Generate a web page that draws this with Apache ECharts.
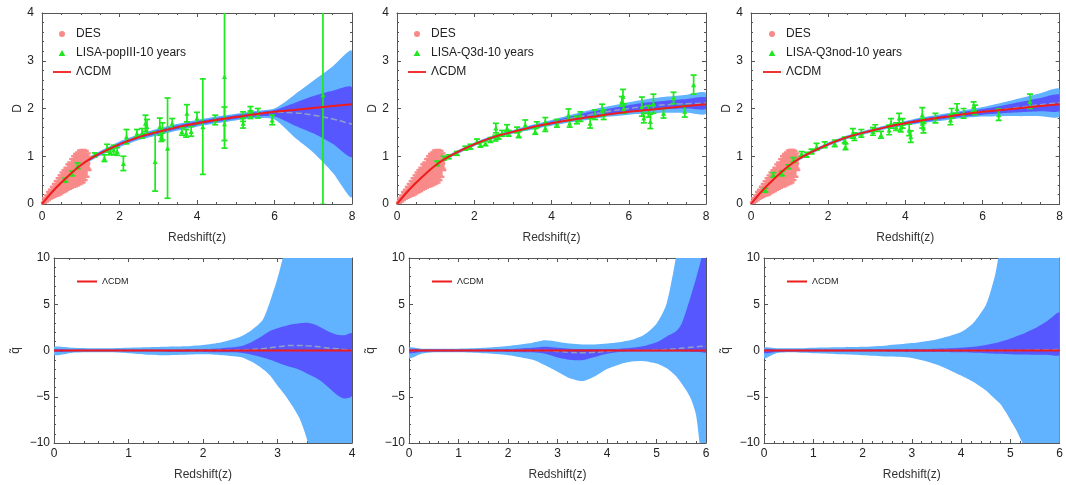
<!DOCTYPE html>
<html><head><meta charset="utf-8">
<script src="https://cdn.jsdelivr.net/npm/echarts@6/dist/echarts.min.js"></script>
<style>html,body{margin:0;padding:0;background:#fff}#c{width:1066px;height:485px}</style>
</head><body><div id="c"></div>
<script>
// ---------------- DATA ----------------
const lisaNames = ['LISA-popIII-10 years', 'LISA-Q3d-10 years', 'LISA-Q3nod-10 years'];

// top panels: reconstructed D(z)
const zTop  = [0,0.25,0.5,0.75,1,1.25,1.5,2,2.5,3,3.5,4,4.5,5,5.5,6,6.5,7,7.5,8];
const dLCDM = [0,0.24,0.45,0.64,0.81,0.95,1.06,1.25,1.40,1.51,1.61,1.69,1.76,1.82,1.88,1.93,1.97,2.01,2.05,2.09];

const mean1 = [0,0.24,0.45,0.64,0.81,0.95,1.06,1.25,1.40,1.51,1.61,1.69,1.76,1.82,1.88,1.92,1.91,1.86,1.78,1.67];
const l1Hi  = [0.02,0.27,0.49,0.69,0.86,1.00,1.11,1.31,1.46,1.58,1.68,1.76,1.83,1.89,1.95,2.00,2.28,2.58,2.88,3.20];
const l1Lo  = [-0.02,0.21,0.41,0.59,0.76,0.90,1.01,1.19,1.34,1.44,1.54,1.62,1.69,1.75,1.80,1.77,1.41,1.08,0.66,0.15];
const d1Hi  = [0.01,0.26,0.47,0.67,0.84,0.98,1.09,1.28,1.43,1.55,1.65,1.73,1.80,1.86,1.92,1.97,2.11,2.26,2.37,2.44];
const d1Lo  = [-0.01,0.22,0.43,0.61,0.78,0.92,1.03,1.22,1.37,1.47,1.57,1.65,1.72,1.78,1.83,1.83,1.65,1.48,1.26,0.99];

const mean2 = [0,0.24,0.45,0.64,0.81,0.95,1.06,1.25,1.40,1.51,1.61,1.70,1.79,1.87,1.94,2.00,2.05,2.08,2.10,2.11];
const l2Hi  = [0.01,0.27,0.48,0.67,0.85,0.99,1.10,1.29,1.44,1.55,1.66,1.76,1.87,1.97,2.05,2.13,2.20,2.25,2.29,2.33];
const l2Lo  = [-0.01,0.21,0.42,0.61,0.77,0.91,1.02,1.21,1.36,1.47,1.56,1.64,1.71,1.77,1.83,1.87,1.90,1.91,1.91,1.89];
const d2Hi  = [0.01,0.26,0.47,0.66,0.83,0.97,1.08,1.27,1.42,1.53,1.64,1.73,1.83,1.93,2.00,2.07,2.13,2.17,2.20,2.23];
const d2Lo  = [0,0.22,0.43,0.62,0.79,0.93,1.04,1.23,1.38,1.49,1.58,1.67,1.75,1.81,1.88,1.93,1.97,1.99,2.00,1.99];

const mean3 = [0,0.24,0.45,0.64,0.81,0.95,1.06,1.25,1.40,1.51,1.61,1.69,1.76,1.82,1.88,1.93,1.98,2.03,2.08,2.12];
const l3Hi  = [0.01,0.27,0.48,0.68,0.85,0.99,1.10,1.29,1.44,1.55,1.65,1.74,1.82,1.89,1.96,2.03,2.12,2.22,2.32,2.41];
const l3Lo  = [-0.01,0.21,0.42,0.60,0.77,0.91,1.02,1.21,1.36,1.47,1.57,1.64,1.70,1.75,1.80,1.83,1.84,1.84,1.84,1.83];
const d3Hi  = [0.01,0.26,0.47,0.66,0.83,0.97,1.08,1.27,1.42,1.53,1.63,1.72,1.80,1.86,1.93,1.99,2.06,2.14,2.22,2.29];
const d3Lo  = [0,0.22,0.43,0.62,0.79,0.93,1.04,1.23,1.38,1.49,1.59,1.66,1.72,1.78,1.83,1.87,1.90,1.92,1.94,1.95];

// DES points
const desZ = [0.02,0.05,0.08,0.1,0.13,0.15,0.18,0.2,0.23,0.25,0.28,0.3,0.33,0.35,0.38,0.4,0.43,0.45,0.48,0.5,0.53,0.55,0.58,0.6,0.63,0.65,0.68,0.7,0.73,0.75,0.78,0.8,0.83,0.85,0.88,0.9,0.93,0.95,0.98,1.0,1.03,1.05,1.08,1.1,1.13,1.15,1.18,1.2];
const desD = [0.03,0.04,0.09,0.08,0.14,0.12,0.2,0.16,0.24,0.19,0.3,0.22,0.35,0.25,0.4,0.27,0.45,0.3,0.5,0.33,0.55,0.36,0.6,0.39,0.64,0.42,0.7,0.45,0.74,0.48,0.8,0.5,0.85,0.52,0.9,0.55,0.92,0.57,0.95,0.6,0.96,0.63,0.95,0.68,0.93,0.75,0.9,0.85];
const desE = [0.02,0.02,0.03,0.03,0.04,0.04,0.05,0.05,0.06,0.06,0.06,0.07,0.07,0.08,0.08,0.09,0.09,0.1,0.1,0.1,0.11,0.11,0.11,0.12,0.12,0.12,0.13,0.13,0.13,0.14,0.14,0.14,0.15,0.15,0.15,0.16,0.16,0.16,0.17,0.17,0.17,0.18,0.18,0.18,0.18,0.18,0.16,0.14];

// LISA mock points
const p1Z = [0.6,0.77,0.92,1.36,1.61,1.68,1.76,1.85,1.94,2.1,2.18,2.45,2.58,2.67,2.71,2.92,3.04,3.08,3.11,3.24,3.36,3.61,3.72,3.74,3.85,4.0,4.15,4.47,4.71,4.71,5.19,5.19,5.38,5.38,5.57,5.94,7.25];
const p1D = [0.5,0.64,0.8,1.03,0.96,1.17,1.1,1.13,1.1,0.85,1.41,1.48,1.48,1.69,1.62,0.89,1.62,1.41,1.52,1.17,1.69,1.52,1.48,1.9,1.52,1.8,1.62,1.76,1.68,2.67,1.83,1.69,1.97,1.87,1.9,1.76,2.29];
const p1E = [0.04,0.05,0.06,0.04,0.07,0.08,0.07,0.1,0.08,0.15,0.15,0.08,0.1,0.17,0.15,0.62,0.18,0.1,0.18,1.05,0.1,0.08,0.08,0.18,0.1,0.12,1.0,0.1,0.35,1.5,0.1,0.1,0.07,0.08,0.1,0.1,2.3];

const p2Z = [1.04,1.21,1.34,1.55,1.77,1.9,2.07,2.16,2.29,2.42,2.55,2.56,2.63,2.72,2.85,2.89,3.11,3.15,3.32,3.58,3.62,3.84,3.84,4.14,4.44,4.47,4.66,4.75,5.0,5.13,5.31,5.35,5.82,5.85,5.87,6.34,6.39,6.51,6.56,6.64,6.9,7.16,7.45,7.68];
const p2D = [0.85,0.96,0.99,1.06,1.17,1.2,1.31,1.24,1.27,1.34,1.38,1.59,1.41,1.48,1.59,1.48,1.55,1.45,1.66,1.52,1.66,1.59,1.73,1.69,1.87,1.69,1.76,1.83,1.69,1.87,1.97,1.87,2.15,2.25,2.0,2.04,1.8,1.94,1.73,2.1,1.9,2.22,1.94,2.5];
const p2E = [0.05,0.04,0.04,0.04,0.04,0.05,0.05,0.05,0.05,0.05,0.06,0.1,0.05,0.06,0.07,0.06,0.06,0.06,0.1,0.06,0.06,0.07,0.08,0.08,0.12,0.08,0.08,0.1,0.1,0.1,0.12,0.1,0.1,0.15,0.1,0.2,0.1,0.12,0.15,0.2,0.1,0.12,0.12,0.2];

const p3Z = [0.37,0.58,0.8,0.97,1.1,1.31,1.44,1.57,1.7,1.91,2.17,2.43,2.45,2.64,2.68,2.86,3.16,3.22,3.37,3.58,3.63,3.76,3.84,3.88,3.93,4.1,4.14,4.44,4.44,4.47,4.78,5.17,5.2,5.34,5.51,5.77,5.81,6.42,7.23];
const p3D = [0.29,0.61,0.64,0.78,0.92,1.05,1.03,1.1,1.2,1.24,1.27,1.34,1.2,1.48,1.41,1.48,1.52,1.59,1.45,1.55,1.69,1.62,1.8,1.59,1.69,1.55,1.41,1.69,1.87,1.59,1.8,1.76,1.9,2.0,1.9,2.04,1.97,1.87,2.15];
const p3E = [0.04,0.05,0.05,0.04,0.05,0.05,0.05,0.05,0.07,0.06,0.07,0.06,0.06,0.1,0.08,0.08,0.08,0.07,0.07,0.1,0.1,0.08,0.1,0.08,0.1,0.12,0.12,0.1,0.15,0.1,0.1,0.1,0.1,0.1,0.1,0.1,0.1,0.12,0.15];

// bottom panels: reconstructed q~(z)
const zB1   = [0,0.25,0.5,0.75,1,1.25,1.5,1.75,2,2.25,2.5,2.65,2.8,2.9,3.0,3.1,3.2,3.3,3.4,3.5,3.6,3.7,3.8,3.9,4.0];
const qL1Hi = [0.4,0.3,0.25,0.25,0.3,0.35,0.4,0.45,0.6,0.9,1.5,2.2,3.3,5.3,7.8,11,15,20,26,33,40,48,56,64,72];
const qL1Lo = [-0.5,-0.25,-0.2,-0.2,-0.3,-0.45,-0.5,-0.45,-0.4,-0.5,-0.7,-1.2,-2.0,-2.7,-3.8,-4.8,-6.0,-7.4,-9.7,-13,-18,-25,-32,-40,-50];
const qD1Hi = [0.15,0.12,0.1,0.1,0.1,0.1,0.1,0.12,0.15,0.25,0.45,0.9,1.6,2.1,2.4,2.65,2.85,2.95,3.0,2.8,2.4,2.0,1.7,1.65,1.85];
const qD1Lo = [-0.15,-0.1,-0.08,-0.08,-0.1,-0.12,-0.15,-0.15,-0.15,-0.2,-0.25,-0.45,-0.75,-1.0,-1.3,-1.6,-1.85,-2.1,-2.5,-2.9,-3.4,-4.1,-4.8,-5.2,-4.9];
const qM1   = [0,0,0,0,0,0,0,0,0,0.02,0.05,0.1,0.2,0.3,0.4,0.5,0.55,0.55,0.5,0.45,0.35,0.25,0.2,0.1,0.05];

const zB2   = [0,0.25,0.5,0.75,1,1.5,2,2.5,2.75,3,3.25,3.5,3.75,4,4.25,4.5,4.75,5,5.2,5.4,5.5,5.6,5.7,5.8,5.9,6];
const qL2Hi = [0.3,0.2,0.2,0.2,0.2,0.3,0.5,0.85,1.1,0.95,0.75,0.65,0.65,0.75,0.9,1.15,1.7,2.9,5.0,10.3,14,18,22,26,30,35];
const qL2Lo = [-0.85,-0.35,-0.2,-0.2,-0.2,-0.3,-0.5,-1.0,-1.6,-2.3,-3.0,-3.3,-2.8,-2.0,-1.5,-1.2,-1.15,-1.4,-1.9,-2.8,-3.5,-4.3,-5.3,-7.0,-11.5,-16];
const qD2Hi = [0.15,0.12,0.1,0.1,0.1,0.12,0.15,0.3,0.4,0.3,0.2,0.15,0.15,0.15,0.2,0.3,0.5,0.9,1.5,2.1,2.8,4.3,6.0,7.8,9.8,12];
const qD2Lo = [-0.3,-0.15,-0.1,-0.1,-0.1,-0.12,-0.15,-0.2,-0.35,-0.75,-1.0,-1.05,-0.7,-0.35,-0.15,-0.1,-0.1,-0.1,-0.1,-0.12,-0.13,-0.14,-0.15,-0.17,-0.18,-0.2];
const qM2   = [0,0,0,0,0,0,0,0,0,-0.1,-0.2,-0.25,-0.2,-0.1,0,0,0,0.05,0.1,0.2,0.25,0.3,0.35,0.4,0.45,0.5];

const zB3   = [0,0.25,0.5,0.75,1,1.5,2,2.5,3,3.5,4,4.25,4.5,4.6,4.7,4.8,4.9,5,5.1,5.2,5.3,5.4,5.5,5.75,6];
const qL3Hi = [0.3,0.25,0.25,0.25,0.3,0.35,0.4,0.55,0.8,1.2,2.0,3.0,4.9,6.4,8.4,11.5,14,17,20,23,26,29,32,40,48];
const qL3Lo = [-0.85,-0.3,-0.2,-0.25,-0.3,-0.4,-0.5,-0.65,-0.8,-1.5,-2.7,-3.4,-4.3,-4.8,-5.3,-5.8,-6.6,-7.5,-8.4,-9.5,-10.6,-12,-13.5,-18,-24];
const qD3Hi = [0.15,0.12,0.1,0.1,0.1,0.12,0.12,0.13,0.15,0.2,0.3,0.4,0.6,0.7,0.8,0.95,1.1,1.3,1.5,1.7,1.9,2.15,2.4,3.2,4.1];
const qD3Lo = [-0.3,-0.15,-0.1,-0.1,-0.1,-0.12,-0.12,-0.13,-0.15,-0.17,-0.2,-0.25,-0.3,-0.32,-0.34,-0.36,-0.38,-0.4,-0.42,-0.43,-0.44,-0.45,-0.45,-0.45,-0.45];
const qM3   = [0,0,0,0,0,0,0,0,0,0,0,0,0,0,0,0,0,0,0,0,0.02,0.04,0.06,0.08,0.1];

const qLCDMz = [[0,4],[0,6],[0,6]];
const qLCDM  = [0,0];

// ---------------- STYLE ----------------
const FONT = '"Liberation Sans", Arial, sans-serif';
const LIGHT = '#62b3ff', DARK = '#5757ff', RED = '#ee1c1c', GREEN = '#1ee81e', PINK = '#f88a8a', MEAN = '#8f9fc6', AX = '#555';

const grids = [
  {left:42, top:13, width:310, height:191},
  {left:397, top:13, width:309, height:191},
  {left:751, top:13, width:311, height:191},
  {left:54, top:258, width:298, height:185},
  {left:409, top:258, width:297, height:185},
  {left:764, top:258, width:298, height:185}
];

const clone = o => JSON.parse(JSON.stringify(o));
const minus = v => String(v).replace('-', '\u2212');

function axisBase(gi, min, max, interval, minorSplit){
  return {type:'value', gridIndex:gi, min, max, interval, splitLine:{show:false},
    axisLine:{show:true, onZero:false, lineStyle:{color:AX, width:1}},
    axisTick:{show:true, inside:true, length:4, lineStyle:{color:AX}},
    minorTick:{show:true, splitNumber:minorSplit, length:2, lineStyle:{color:AX}}};
}
const xAxes = [], yAxes = [];
grids.forEach((g, gi) => {
  const top = gi < 3;
  const xmax = top ? 8 : (gi === 3 ? 4 : 6);
  const xb = axisBase(gi, 0, xmax, top ? 2 : 1, top ? 4 : 5);
  xAxes.push(Object.assign(clone(xb), {position:'bottom', name:'Redshift(z)', nameLocation:'middle',
    nameGap: top ? 28 : 26, nameTextStyle:{fontSize:12, color:'#333', fontFamily:FONT},
    axisLabel:{show:true, margin: top ? 7 : 5, fontSize:12, color:'#222', fontFamily:FONT}}));
  xAxes.push(Object.assign(clone(xb), {position:'top', axisLabel:{show:false}}));
  const yb = top ? axisBase(gi, 0, 4, 1, 5) : axisBase(gi, -10, 10, 5, 5);
  yAxes.push(Object.assign(clone(yb), {position:'left', name: top ? 'D' : 'q\u0303', nameLocation:'middle',
    nameGap: top ? 14 : 32, nameTextStyle:{fontSize:12, color:'#333', fontFamily:FONT},
    axisLabel:{show:true, margin: top ? 8 : 4, fontSize:12, color:'#222', fontFamily:FONT, formatter: minus}}));
  yAxes.push(Object.assign(clone(yb), {position:'right', axisLabel:{show:false}}));
});

// ---------------- SERIES ----------------
function band(gi, zs, lo, hi, color, z){
  const data = zs.map((x, i) => [x, lo[i], hi[i]]);
  return {type:'custom', xAxisIndex:2*gi, yAxisIndex:2*gi, z, silent:true, data,
    encode:{x:0, y:[1,2]},
    renderItem(params, api){
      if (params.dataIndex !== 0) return null;
      const up = data.map(d => api.coord([d[0], d[2]]));
      const dn = data.map(d => api.coord([d[0], d[1]])).reverse();
      const cs = params.coordSys;
      return {type:'polygon', shape:{points: up.concat(dn), smooth: 0.25},
        style:{fill: color},
        clipPath:{type:'rect', shape:{x:cs.x, y:cs.y, width:cs.width, height:cs.height}}};
    }};
}
function line(gi, name, zs, ys, color, width, type, z){
  return {type:'line', name, xAxisIndex:2*gi, yAxisIndex:2*gi, z, silent:true,
    data: zs.map((x, i) => [x, ys[i]]), smooth:true, symbol:'none', showSymbol:false,
    lineStyle:{color, width, type}, itemStyle:{color}, clip:true};
}
function errbars(gi, zs, ys, es, color, lw, cap, z){
  return {type:'custom', xAxisIndex:2*gi, yAxisIndex:2*gi, z, silent:true,
    data: zs.map((x, i) => [x, ys[i], es[i]]), encode:{x:0, y:1},
    renderItem(params, api){
      const x = api.value(0), y = api.value(1), e = api.value(2);
      const t = api.coord([x, y + e]), b = api.coord([x, y - e]);
      const cs = params.coordSys;
      const st = {stroke:color, lineWidth:lw};
      return {type:'group', clipPath:{type:'rect', shape:{x:cs.x, y:cs.y, width:cs.width, height:cs.height}},
        children:[
          {type:'line', shape:{x1:t[0], y1:t[1], x2:b[0], y2:b[1]}, style:st},
          {type:'line', shape:{x1:t[0]-cap, y1:t[1], x2:t[0]+cap, y2:t[1]}, style:st},
          {type:'line', shape:{x1:b[0]-cap, y1:b[1], x2:b[0]+cap, y2:b[1]}, style:st}
        ]};
    }};
}
function points(gi, name, zs, ys, symbol, size, color, z){
  return {type:'scatter', name, xAxisIndex:2*gi, yAxisIndex:2*gi, z, silent:true,
    data: zs.map((x, i) => [x, ys[i]]), symbol, symbolSize:size, itemStyle:{color, opacity:1}};
}

const series = [];
const topSets = [
  {lHi:l1Hi, lLo:l1Lo, dHi:d1Hi, dLo:d1Lo, mean:mean1, pz:p1Z, pd:p1D, pe:p1E},
  {lHi:l2Hi, lLo:l2Lo, dHi:d2Hi, dLo:d2Lo, mean:mean2, pz:p2Z, pd:p2D, pe:p2E},
  {lHi:l3Hi, lLo:l3Lo, dHi:d3Hi, dLo:d3Lo, mean:mean3, pz:p3Z, pd:p3D, pe:p3E}
];
topSets.forEach((s, gi) => {
  series.push(band(gi, zTop, s.lLo, s.lHi, LIGHT, 1));
  series.push(band(gi, zTop, s.dLo, s.dHi, DARK, 2));
  series.push(line(gi, 'mean', zTop, s.mean, MEAN, 1.5, 'dashed', 3));
  series.push(errbars(gi, desZ, desD, desE, PINK, 2.4, 3, 4));
  series.push(points(gi, 'DES', desZ, desD, 'circle', 4, PINK, 4));
  series.push(errbars(gi, s.pz, s.pd, s.pe, GREEN, 1.7, 3, 5));
  series.push(points(gi, lisaNames[gi], s.pz, s.pd, 'triangle', 5, GREEN, 5));
  series.push(line(gi, '\u039BCDM', zTop, dLCDM, RED, 2, 'solid', 6));
});
const botSets = [
  {z:zB1, lHi:qL1Hi, lLo:qL1Lo, dHi:qD1Hi, dLo:qD1Lo, mean:qM1},
  {z:zB2, lHi:qL2Hi, lLo:qL2Lo, dHi:qD2Hi, dLo:qD2Lo, mean:qM2},
  {z:zB3, lHi:qL3Hi, lLo:qL3Lo, dHi:qD3Hi, dLo:qD3Lo, mean:qM3}
];
botSets.forEach((s, i) => {
  const gi = i + 3;
  series.push(band(gi, s.z, s.lLo, s.lHi, LIGHT, 1));
  series.push(band(gi, s.z, s.dLo, s.dHi, DARK, 2));
  series.push(line(gi, 'mean', s.z, s.mean, MEAN, 1.5, 'dashed', 3));
  series.push(line(gi, '\u039BCDM', qLCDMz[i], qLCDM, RED, 2, 'solid', 6));
});

// ---------------- LEGENDS ----------------
const TRI = 'path://M5,0L10,9L0,9Z';
const BAR = 'path://M0,0H20V2H0Z';
const legends = [48, 403, 758].map((left, i) => ({
  left, top:23, orient:'vertical', itemWidth:18, itemHeight:6, itemGap:7, selectedMode:false,
  textStyle:{fontSize:12, color:'#222', fontFamily:FONT},
  data:[{name:'DES', icon:'circle'}, {name:lisaNames[i], icon:TRI}, {name:'\u039BCDM', icon:BAR}]
}));
[72, 427, 782].forEach(left => legends.push({
  left, top:272, orient:'vertical', itemWidth:20, itemHeight:4, selectedMode:false,
  textStyle:{fontSize:9, color:'#222', fontFamily:FONT},
  data:[{name:'\u039BCDM', icon:BAR}]
}));

const chart = echarts.init(document.getElementById('c'), null, {renderer:'canvas'});
chart.setOption({
  animation:false, backgroundColor:'#fff',
  grid: grids, xAxis: xAxes, yAxis: yAxes, legend: legends, series
});
</script></body></html>
